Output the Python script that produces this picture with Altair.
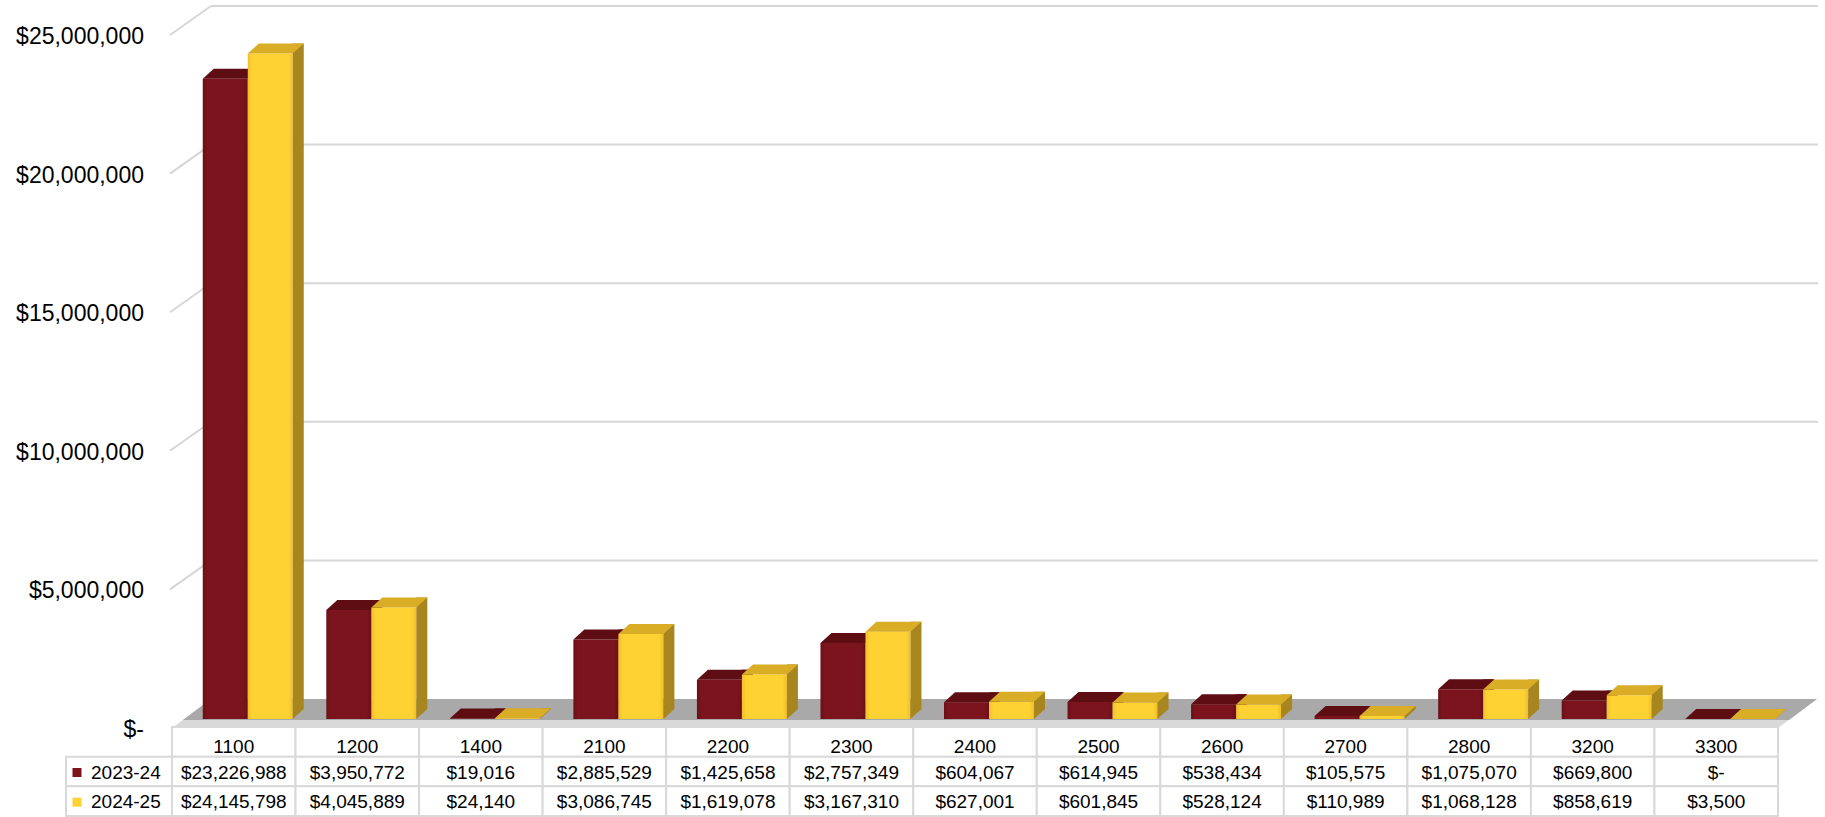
import altair as alt
import pandas as pd

# ---------------- data ----------------
categories = ["1100", "1200", "1400", "2100", "2200", "2300", "2400",
              "2500", "2600", "2700", "2800", "3200", "3300"]
fy2324 = [23226988, 3950772, 19016, 2885529, 1425658, 2757349, 604067,
          614945, 538434, 105575, 1075070, 669800, 0]
fy2425 = [24145798, 4045889, 24140, 3086745, 1619078, 3167310, 627001,
          601845, 528124, 110989, 1068128, 858619, 3500]
series_names = ["2023-24", "2024-25"]
y_ticks = [0, 5000000, 10000000, 15000000, 20000000, 25000000]

FONT = "Liberation Sans"
RED = "#7b141c"
RED_TOP = "#5e0d13"
RED_SIDE = "#5a0c12"
YEL = "#ffd233"
YEL_TOP = "#d9ad26"
YEL_SIDE = "#a8861f"
GRID = "#d6d6d6"


def money(v):
    return "$-" if v == 0 else "${:,}".format(v)


bars = pd.DataFrame({"cat": categories, "a": fy2324, "b": fy2425})
bars["base"] = 0

ticks = pd.DataFrame({"v": y_ticks, "label": [money(v) for v in y_ticks]})
grid = ticks[ticks["v"] > 0]

hdr = pd.DataFrame({"row": "hdr", "cat": categories, "label": categories})
r1 = pd.DataFrame({"row": series_names[0], "cat": categories,
                   "label": [money(v) for v in fy2324]})
r2 = pd.DataFrame({"row": series_names[1], "cat": categories,
                   "label": [money(v) for v in fy2425]})
cells = pd.concat([hdr, r1, r2], ignore_index=True)
values = pd.concat([r1, r2], ignore_index=True)
legend_df = pd.DataFrame({"row": series_names, "name": series_names})
one = pd.DataFrame({"k": [0]})

# ---------------- scales ----------------
X_BAR = alt.Scale(domain=categories, range=[186, 1792], paddingInner=0, paddingOuter=0)
Y_BAR = alt.Scale(domain=[0, 25000000], range=[719, 30], nice=False)
Y_WALL = alt.Scale(domain=[0, 25000000], range=[699, 6], nice=False)
X_TAB = alt.Scale(domain=categories, range=[172, 1778], paddingInner=0, paddingOuter=0)
Y_TAB = alt.Scale(domain=["hdr"] + series_names, range=[727, 816],
                  paddingInner=0, paddingOuter=0)


def grad(edge, mid):
    return alt.Gradient(
        gradient="linear", x1=0, x2=1, y1=0, y2=0,
        stops=[alt.GradientStop(color=edge, offset=0),
               alt.GradientStop(color=mid, offset=0.1),
               alt.GradientStop(color=mid, offset=0.9),
               alt.GradientStop(color=edge, offset=1)])


def xb():
    return alt.X("cat:N", scale=X_BAR, axis=None)


TOP = "M 0 0 L 45 0 L 56 -10 L 11 -10 Z"
TRI = "M 0 0 L 0 -10 L 11 -10 Z"
LIP = "M 0 0 L 1606 0 L 1645 -29 L 39 -29 Z"
FLOOR = "M 11 -8 L 1617 -8 L 1645 -29 L 39 -29 Z"

layers = []

# back-wall gridlines
layers.append(alt.Chart(grid).mark_rule(color=GRID, strokeWidth=2).encode(
    x=alt.value(211), x2=alt.value(1818),
    y=alt.Y("v:Q", scale=Y_WALL, axis=None)))
# side-wall diagonals
layers.append(alt.Chart(grid).mark_rule(color=GRID, strokeWidth=2, yOffset=29).encode(
    x=alt.value(170), x2=alt.value(211),
    y=alt.Y("v:Q", scale=Y_WALL, axis=None), y2="v:Q"))
# y labels
layers.append(alt.Chart(ticks).mark_text(
    align="right", baseline="middle", font=FONT, fontSize=23, color="#000000",
    yOffset=31).encode(
    x=alt.value(144), y=alt.Y("v:Q", scale=Y_WALL, axis=None), text="label:N"))

# floor
layers.append(alt.Chart(one).mark_point(
    shape=LIP, size=4, filled=True, opacity=1, strokeWidth=0, color="#d9d9d9").encode(
    x=alt.value(172), y=alt.value(728)))
layers.append(alt.Chart(one).mark_point(
    shape=FLOOR, size=4, filled=True, opacity=1, strokeWidth=0, color="#a9a9a9").encode(
    x=alt.value(172), y=alt.value(728)))


def bar_layers(field, front, side, top, off):
    out = []
    out.append(alt.Chart(bars).mark_bar(size=45, xOffset=off + 22.5, color=front).encode(
        x=xb(), y=alt.Y(f"{field}:Q", scale=Y_BAR, axis=None), y2="base:Q"))
    out.append(alt.Chart(bars).mark_bar(size=11, xOffset=off + 50.5, yOffset=-10,
                                        y2Offset=-10, color=side).encode(
        x=xb(), y=alt.Y(f"{field}:Q", scale=Y_BAR, axis=None), y2="base:Q"))
    out.append(alt.Chart(bars).mark_point(
        shape=TRI, size=4, filled=True, opacity=1, strokeWidth=0, color=side,
        xOffset=off + 45).encode(
        x=xb(), y=alt.Y("base:Q", scale=Y_BAR, axis=None)))
    out.append(alt.Chart(bars).mark_point(
        shape=TOP, size=4, filled=True, opacity=1, strokeWidth=0, color=top,
        xOffset=off).encode(
        x=xb(), y=alt.Y(f"{field}:Q", scale=Y_BAR, axis=None)))
    return out


layers += bar_layers("a", grad("#6a1017", RED), RED_SIDE, RED_TOP, -45)
layers += bar_layers("b", grad("#efbf2a", YEL), YEL_SIDE, YEL_TOP, 0)

# data table
layers.append(alt.Chart(cells).mark_rect(fill="white", stroke="#d9d9d9", strokeWidth=2).encode(
    x=alt.X("cat:N", scale=X_TAB, axis=None),
    y=alt.Y("row:N", scale=Y_TAB, axis=None)))
layers.append(alt.Chart(legend_df).mark_rect(fill="white", stroke="#d9d9d9", strokeWidth=2).encode(
    x=alt.value(66), x2=alt.value(172),
    y=alt.Y("row:N", scale=Y_TAB, axis=None)))
layers.append(alt.Chart(hdr).mark_text(
    font=FONT, fontSize=19, color="#000000", baseline="middle", yOffset=5).encode(
    x=alt.X("cat:N", scale=X_TAB, axis=None),
    y=alt.Y("row:N", scale=Y_TAB, axis=None), text="label:N"))
layers.append(alt.Chart(values).mark_text(
    font=FONT, fontSize=19, color="#000000", baseline="middle", yOffset=1).encode(
    x=alt.X("cat:N", scale=X_TAB, axis=None),
    y=alt.Y("row:N", scale=Y_TAB, axis=None), text="label:N"))
layers.append(alt.Chart(legend_df).mark_square(size=81, opacity=1, yOffset=1).encode(
    x=alt.value(77),
    y=alt.Y("row:N", scale=Y_TAB, axis=None),
    color=alt.Color("name:N", scale=alt.Scale(domain=series_names, range=[RED, YEL]),
                    legend=None)))
layers.append(alt.Chart(legend_df).mark_text(
    font=FONT, fontSize=19, color="#000000", align="left", baseline="middle", yOffset=1).encode(
    x=alt.value(91),
    y=alt.Y("row:N", scale=Y_TAB, axis=None), text="name:N"))

chart = alt.layer(*layers).properties(
    width=1825, height=817,
    autosize=alt.AutoSizeParams(type="none"),
    padding=0,
    background="white",
).resolve_scale(x="independent", y="independent", color="independent").configure_view(stroke=None)

chart.save("out.html", embed_options={"renderer": "svg", "actions": False})
